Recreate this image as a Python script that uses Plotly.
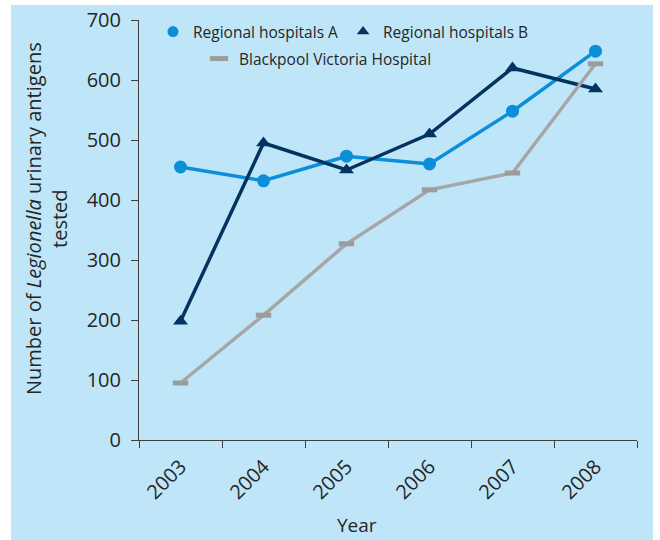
import plotly.graph_objects as go

years = ["2003", "2004", "2005", "2006", "2007", "2008"]
hosp_a = [455, 432, 473, 460, 548, 648]
hosp_b = [198, 495, 450, 510, 620, 585]
blackpool = [95, 208, 327, 417, 445, 627]
y_ticks = [0, 100, 200, 300, 400, 500, 600, 700]

FONT = "Open Sans"
TXT = "#262626"
BG = "#bfe6f8"
C_A = "#0a8fd8"
C_B = "#03335f"
C_G = "#a6a6a6"

fig = go.Figure()
fig.add_trace(go.Scatter(
    x=years, y=hosp_a, name="Regional hospitals A", mode="lines+markers",
    line=dict(color=C_A, width=3.5),
    marker=dict(symbol="circle", size=13, color=C_A), showlegend=False))
fig.add_trace(go.Scatter(
    x=years, y=hosp_b, name="Regional hospitals B", mode="lines+markers",
    line=dict(color=C_B, width=3.5),
    marker=dict(symbol="triangle-up", size=13, color=C_B), showlegend=False))
fig.add_trace(go.Scatter(
    x=years, y=blackpool, name="Blackpool Victoria Hospital", mode="lines+markers",
    line=dict(color=C_G, width=3.5),
    marker=dict(symbol="line-ew", size=11, color="#9c9c9c",
                line=dict(color="#9c9c9c", width=5)), showlegend=False))

# legend-only entries (markers only, as in the reference legend)
fig.add_trace(go.Scatter(x=[None], y=[None], name="Regional hospitals A", mode="markers",
                         marker=dict(symbol="circle", size=11, color=C_A), legend="legend"))
fig.add_trace(go.Scatter(x=[None], y=[None], name="Regional hospitals B", mode="markers",
                         marker=dict(symbol="triangle-up", size=11, color=C_B), legend="legend"))
fig.add_trace(go.Scatter(x=[None], y=[None], name="Blackpool Victoria Hospital", mode="markers",
                         marker=dict(symbol="line-ew", size=13, color="#9c9c9c",
                                     line=dict(color="#9c9c9c", width=6)), legend="legend2"))

# plot area: x 139..637 px, y 20..440 px
L, R, T, B = 139, 637, 20, 440
W, H = R - L, B - T

def px_x(p):
    return (p - L) / W

def px_y(p):
    return (B - p) / H

fig.add_shape(type="rect", xref="paper", yref="paper",
              x0=px_x(11), x1=px_x(653), y0=px_y(541), y1=px_y(5),
              fillcolor=BG, line=dict(width=0), layer="below")

fig.add_annotation(text="Year", xref="paper", yref="paper",
                   x=px_x(357), y=px_y(525), showarrow=False,
                   font=dict(family=FONT, size=19, color=TXT),
                   xanchor="center", yanchor="middle")

fig.add_annotation(text="Number of <i>Legionella</i> urinary antigens<br>tested",
                   xref="paper", yref="paper", x=px_x(46), y=px_y(219),
                   showarrow=False, textangle=-90,
                   font=dict(family=FONT, size=20, color=TXT),
                   xanchor="center", yanchor="middle")

fig.update_layout(
    width=660, height=540,
    margin=dict(l=L, r=660 - R, t=T, b=540 - B, autoexpand=False),
    paper_bgcolor="white", plot_bgcolor="rgba(0,0,0,0)",
    font=dict(family=FONT, color=TXT),
    legend=dict(orientation="h", x=px_x(153), y=px_y(15), xanchor="left", yanchor="top",
                bgcolor="rgba(0,0,0,0)", font=dict(family=FONT, size=15.5, color=TXT),
                itemwidth=30),
    legend2=dict(orientation="h", x=px_x(199), y=px_y(42), xanchor="left", yanchor="top",
                 bgcolor="rgba(0,0,0,0)", font=dict(family=FONT, size=15.5, color=TXT),
                 itemwidth=30),
    xaxis=dict(type="category", range=[-0.5, 5.5], showgrid=False,
               showline=True, linecolor="#404040", linewidth=1,
               ticks="outside", ticklen=7, tickcolor="#404040", tickson="boundaries",
               tickangle=-45, ticklabelstandoff=6, automargin=False,
               tickfont=dict(family=FONT, size=20, color=TXT)),
    yaxis=dict(range=[0, 700], tickvals=y_ticks, showgrid=False, zeroline=False,
               showline=True, linecolor="#404040", linewidth=1,
               ticks="outside", ticklen=7, tickcolor="#404040", ticklabelstandoff=6,
               automargin=False,
               tickfont=dict(family=FONT, size=20, color=TXT)),
)

fig.write_html("out.html")
